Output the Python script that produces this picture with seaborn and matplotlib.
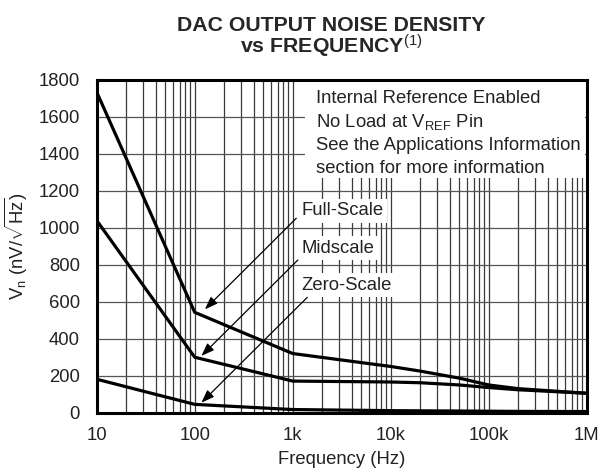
import matplotlib
matplotlib.use("Agg")
import matplotlib.pyplot as plt
from matplotlib.patches import Rectangle
from matplotlib.ticker import FixedLocator, NullFormatter, LogLocator
import numpy as np
import pandas as pd
import seaborn as sns

# Noise density curves (nV/sqrt(Hz)) versus frequency (Hz)
freq_hz = [10, 100, 1e3, 1e4, 2e4, 5e4, 1e5, 2e5, 1e6]
full_scale = [1735, 543, 320, 250, 225, 187, 150, 130, 105]
midscale = [1040, 300, 171, 166, 162, 150, 136, 124, 105]
zero_scale = [181, 45, 17, 11, 10, 9, 8, 7, 6]

series_names = ["Full-Scale", "Midscale", "Zero-Scale"]
x_ticks = [10, 100, 1e3, 1e4, 1e5, 1e6]
x_tick_labels = ["10", "100", "1k", "10k", "100k", "1M"]
y_ticks = [0, 200, 400, 600, 800, 1000, 1200, 1400, 1600, 1800]

df = pd.DataFrame({
    "freq": freq_hz * 3,
    "vn": full_scale + midscale + zero_scale,
    "series": sum([[n] * len(freq_hz) for n in series_names], []),
})

sns.set_theme(style="white")
plt.rcParams["font.family"] = ["Liberation Sans", "DejaVu Sans"]
plt.rcParams["mathtext.fontset"] = "custom"
plt.rcParams["mathtext.rm"] = "Liberation Sans"
plt.rcParams["mathtext.it"] = "Liberation Sans:italic"
plt.rcParams["mathtext.bf"] = "Liberation Sans:bold"

FS = 13.3
TXT = "#222222"

fig = plt.figure(figsize=(6.01, 4.75), dpi=100)
ax = fig.add_axes([0.1609, 0.1312, 0.8153, 0.7004])

sns.lineplot(data=df, x="freq", y="vn", hue="series",
             palette=["black"] * 3, linewidth=2.3, legend=False,
             ax=ax, zorder=5, sort=False)

ax.set_xscale("log")
ax.set_xlim(10, 1e6)
ax.set_ylim(0, 1800)

# grid: decades plus 2..9 subdivisions, and every 200 nV vertically
ax.xaxis.set_major_locator(FixedLocator(x_ticks))
ax.set_xticklabels(x_tick_labels)
ax.xaxis.set_minor_locator(LogLocator(base=10, subs=np.arange(2, 10)))
ax.xaxis.set_minor_formatter(NullFormatter())
ax.set_yticks(y_ticks)
ax.grid(True, which="both", axis="x", color="#3a3a3a", linewidth=0.9)
ax.grid(True, which="major", axis="y", color="#555555", linewidth=0.9)
ax.set_axisbelow(True)

ax.tick_params(axis="both", which="both", length=0, labelsize=FS,
               colors=TXT)
ax.tick_params(axis="x", pad=10.5)
ax.tick_params(axis="y", pad=12)

for s in ax.spines.values():
    s.set_color("black")
    s.set_linewidth(2.2)
    s.set_zorder(10)

ax.set_xlabel("Frequency (Hz)", fontsize=FS, color=TXT, labelpad=5)
ax.set_ylabel(r"V$_\mathregular{n}$ (nV/$\sqrt{\mathregular{Hz}}$)",
              fontsize=FS, color=TXT, labelpad=6)

# conditions box in the upper right
ax.add_patch(Rectangle((0.425, 0.705), 0.572, 0.293, transform=ax.transAxes,
                       facecolor="white", edgecolor="none", zorder=3))
info_lines = [
    ("Internal Reference Enabled", 1674),
    (r"No Load at V$_\mathregular{REF}$ Pin", 1547),
    ("See the Applications Information", 1421),
    ("section for more information", 1295),
]
for txt, yb in info_lines:
    ax.text(1711, yb, txt, fontsize=FS, color=TXT, va="baseline",
            ha="left", zorder=6)

# curve labels with leader arrows to the 100 Hz knee
labels = [
    ("Full-Scale", 1069, (1088, 1052), (127, 559)),
    ("Midscale", 866, (1130, 826), (117, 307)),
    ("Zero-Scale", 664, (1409, 624), (117, 54)),
]
for name, yb, start, tip in labels:
    ax.text(1224, yb, name, fontsize=FS, color=TXT, va="baseline",
            ha="left", zorder=6,
            bbox=dict(facecolor="white", edgecolor="none", pad=2.5))
    ax.annotate("", xy=tip, xytext=start, zorder=7,
                arrowprops=dict(arrowstyle="-|>,head_length=0.6,head_width=0.22",
                                color="black", lw=0.9, shrinkA=0, shrinkB=0,
                                mutation_scale=13))

fig.text(331 / 601, 1 - 30.7 / 475, "DAC OUTPUT NOISE DENSITY",
         ha="center", va="baseline", fontsize=15.3, fontweight="bold")
fig.text(331 / 601, 1 - 53.3 / 475, r"vs FREQUENCY$^{\mathrm{(1)}}$",
         ha="center", va="baseline", fontsize=15.3, fontweight="bold")

fig.savefig("out.png", dpi=100, facecolor="white")
